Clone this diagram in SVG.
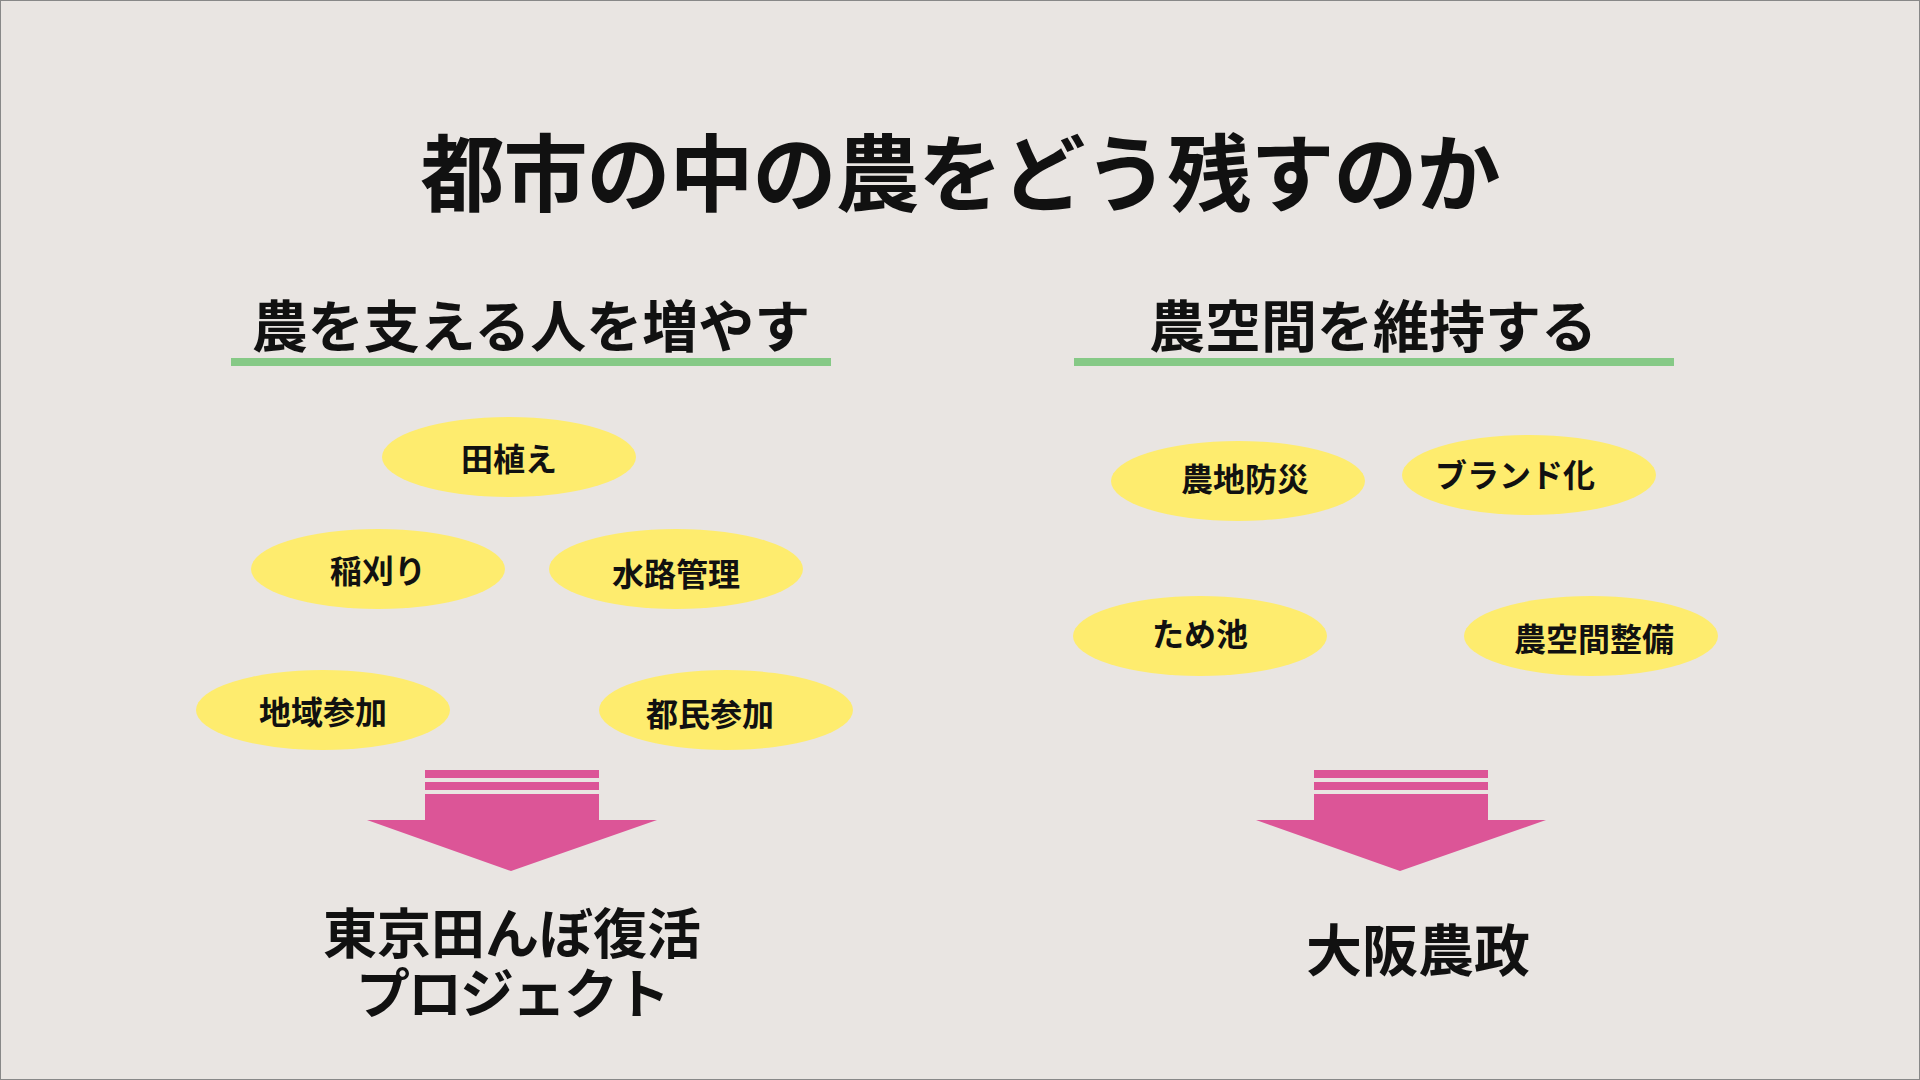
<svg xmlns="http://www.w3.org/2000/svg" width="1920" height="1080" viewBox="0 0 1920 1080">
<style>
text{font-family:"Noto Sans CJK JP","Noto Sans",sans-serif;font-weight:bold;fill:#111;text-anchor:middle;dominant-baseline:central}
.e{fill:#FEEC6E}
.t{font-size:32px}
.h{font-size:56px}
.b{font-size:54px}
.ar{fill:#DC5597}
</style>
<defs>
<g id="arrow">
<rect class="ar" x="-86" y="10" width="174" height="8"/>
<rect class="ar" x="-86" y="22" width="174" height="8"/>
<path class="ar" d="M-86 34 H88 V60 H146 L0 111 L-144 60 H-86 Z"/>
</g>
</defs>
<rect x="0.5" y="0.5" width="1919" height="1079" fill="#E9E5E2" stroke="#888" stroke-width="1"/>
<text x="960" y="168" style="font-size:84px;letter-spacing:-1px">都市の中の農をどう残すのか</text>
<g id="head-left"><text class="h" x="531" y="322">農を支える人を増やす</text><rect x="231" y="358" width="600" height="8" fill="#86C986"/></g>
<g id="head-right"><text class="h" x="1373" y="322">農空間を維持する</text><rect x="1074" y="358" width="600" height="8" fill="#86C986"/></g>
<g id="n1"><ellipse class="e" cx="509" cy="457" rx="127" ry="40"/><text class="t" x="509" y="457">田植え</text></g>
<g id="n2"><ellipse class="e" cx="378" cy="569" rx="127" ry="40"/><text class="t" x="378" y="569">稲刈り</text></g>
<g id="n3"><ellipse class="e" cx="676" cy="569" rx="127" ry="40"/><text class="t" x="676" y="572">水路管理</text></g>
<g id="n4"><ellipse class="e" cx="323" cy="710" rx="127" ry="40"/><text class="t" x="323" y="710">地域参加</text></g>
<g id="n5"><ellipse class="e" cx="726" cy="710" rx="127" ry="40"/><text class="t" x="710" y="712">都民参加</text></g>
<g id="n6"><ellipse class="e" cx="1238" cy="481" rx="127" ry="40"/><text class="t" x="1245" y="477">農地防災</text></g>
<g id="n7"><ellipse class="e" cx="1529" cy="475" rx="127" ry="40"/><text class="t" x="1515" y="473">ブランド化</text></g>
<g id="n8"><ellipse class="e" cx="1200" cy="636" rx="127" ry="40"/><text class="t" x="1200" y="632">ため池</text></g>
<g id="n9"><ellipse class="e" cx="1591" cy="636" rx="127" ry="40"/><text class="t" x="1594" y="637">農空間整備</text></g>
<g id="connectors">
<use href="#arrow" x="511" y="760"/>
<use href="#arrow" x="1400" y="760"/>
</g>
<g id="res-left"><text class="b" x="512" y="930">東京田んぼ復活</text><text class="b" x="512" y="990" style="letter-spacing:-2px">プロジェクト</text></g>
<g id="res-right"><text class="b" x="1418" y="946" style="font-size:56px">大阪農政</text></g>
</svg>
